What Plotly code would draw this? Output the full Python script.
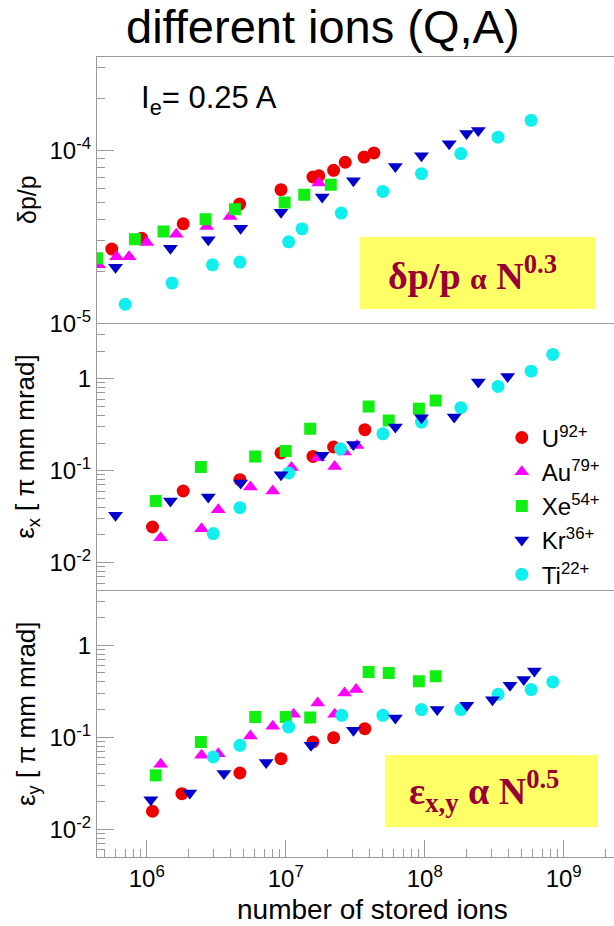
import plotly.graph_objects as go

# ---------------- data ----------------
ions = ["U<sup>92+</sup>", "Au<sup>79+</sup>", "Xe<sup>54+</sup>", "Kr<sup>36+</sup>", "Ti<sup>22+</sup>"]

# panel 1: momentum spread dp/p
U_N_dp = [5.6e5, 9.2e5, 1.83e6, 4.66e6, 9.25e6, 1.57e7, 1.73e7, 2.21e7, 2.68e7, 3.66e7, 4.31e7]
U_dp = [2.69e-5, 3.10e-5, 3.76e-5, 4.89e-5, 5.92e-5, 7.01e-5, 7.13e-5, 7.66e-5, 8.53e-5, 9.14e-5, 9.66e-5]
Au_N_dp = [4.51e5, 6.07e5, 7.46e5, 1.0e6, 1.63e6, 2.70e6, 3.98e6, 1.73e7]
Au_dp = [2.18e-5, 2.43e-5, 2.43e-5, 2.93e-5, 3.27e-5, 3.63e-5, 4.15e-5, 6.47e-5]
Xe_N_dp = [4.39e5, 8.22e5, 1.32e6, 2.65e6, 4.31e6, 9.82e6, 1.36e7, 2.11e7]
Xe_dp = [2.38e-5, 3.06e-5, 3.40e-5, 4.00e-5, 4.57e-5, 5.00e-5, 5.53e-5, 6.32e-5]
Kr_N_dp = [5.96e5, 1.48e6, 2.77e6, 4.74e6, 9.25e6, 1.83e7, 3.07e7, 6.15e7, 9.48e7, 1.50e8, 2.00e8, 2.43e8]
Kr_dp = [2.11e-5, 2.72e-5, 3.04e-5, 3.55e-5, 4.38e-5, 5.37e-5, 6.67e-5, 8.07e-5, 9.31e-5, 1.09e-4, 1.25e-4, 1.30e-4]
Ti_N_dp = [7.0e5, 1.52e6, 2.97e6, 4.68e6, 1.05e7, 1.31e7, 2.51e7, 5.0e7, 9.48e7, 1.82e8, 3.37e8, 5.83e8]
Ti_dp = [1.29e-5, 1.71e-5, 2.18e-5, 2.26e-5, 2.96e-5, 3.52e-5, 4.34e-5, 5.79e-5, 7.33e-5, 9.57e-5, 1.19e-4, 1.49e-4]

# panel 2: horizontal emittance
U_N_ex = [1.10e6, 1.83e6, 4.68e6, 9.25e6, 1.57e7, 2.21e7, 3.71e7]
U_ex = [0.0244, 0.0601, 0.0798, 0.156, 0.143, 0.181, 0.279]
Au_N_ex = [1.26e6, 2.48e6, 3.27e6, 5.57e6, 8.07e6, 1.10e7, 1.70e7, 2.25e7, 2.65e7, 3.26e7]
Au_ex = [0.0187, 0.0234, 0.0377, 0.0664, 0.0601, 0.108, 0.138, 0.111, 0.160, 0.188]
Xe_N_ex = [1.16e6, 2.45e6, 6.03e6, 1.0e7, 1.50e7, 3.95e7, 5.51e7, 9.08e7, 1.20e8]
Xe_ex = [0.0468, 0.110, 0.143, 0.164, 0.286, 0.500, 0.352, 0.472, 0.581]
Kr_N_ex = [5.96e5, 1.48e6, 2.77e6, 4.74e6, 9.25e6, 1.83e7, 3.07e7, 6.15e7, 9.48e7, 1.63e8, 2.43e8, 3.95e8]
Kr_ex = [0.0327, 0.0468, 0.0518, 0.0735, 0.0906, 0.147, 0.193, 0.299, 0.377, 0.383, 0.920, 1.06]
Ti_N_ex = [3.01e6, 4.68e6, 1.05e7, 2.48e7, 5.0e7, 9.48e7, 1.82e8, 3.37e8, 5.83e8, 8.34e8]
Ti_ex = [0.0207, 0.0396, 0.0944, 0.173, 0.252, 0.338, 0.484, 0.826, 1.21, 1.84]

# panel 3: vertical emittance
U_N_ey = [1.10e6, 1.79e6, 4.68e6, 9.25e6, 1.57e7, 2.21e7, 3.71e7]
U_ey = [0.0157, 0.0244, 0.0409, 0.0586, 0.0889, 0.0991, 0.124]
Au_N_ey = [1.26e6, 2.48e6, 3.27e6, 5.57e6, 8.07e6, 1.14e7, 1.70e7, 2.25e7, 2.65e7, 3.21e7]
Au_ey = [0.0509, 0.0637, 0.0664, 0.103, 0.132, 0.178, 0.236, 0.178, 0.303, 0.330]
Xe_N_ey = [1.16e6, 2.45e6, 6.03e6, 1.0e7, 1.50e7, 3.95e7, 5.51e7, 9.08e7, 1.20e8]
Xe_ey = [0.0386, 0.0889, 0.166, 0.166, 0.164, 0.513, 0.500, 0.406, 0.460]
Kr_N_ey = [1.07e6, 2.04e6, 3.59e6, 7.23e6, 1.52e7, 3.07e7, 6.15e7, 1.23e8, 2.01e8, 3.07e8, 4.11e8, 5.16e8, 6.15e8]
Kr_ey = [0.0210, 0.0248, 0.0403, 0.0531, 0.0818, 0.119, 0.162, 0.200, 0.223, 0.256, 0.367, 0.424, 0.526]
Ti_N_ey = [3.01e6, 4.68e6, 1.05e7, 2.53e7, 5.0e7, 9.48e7, 1.82e8, 3.37e8, 5.83e8, 8.34e8]
Ti_ey = [0.0611, 0.0818, 0.129, 0.173, 0.173, 0.200, 0.200, 0.293, 0.330, 0.399]

x_tickvals = [1e6, 1e7, 1e8, 1e9]
x_ticktext = ["10<sup>6</sup>", "10<sup>7</sup>", "10<sup>8</sup>", "10<sup>9</sup>"]
dp_tickvals = [1e-5, 1e-4]
dp_ticktext = ["10<sup>-5</sup>", "10<sup>-4</sup>"]
em_tickvals = [1e-2, 1e-1, 1]
em_ticktext = ["10<sup>-2</sup>", "10<sup>-1</sup>", "1"]

# ---------------- style ----------------
FONT = "Liberation Sans, Arial, sans-serif"
SERIF = "Liberation Serif, Times New Roman, serif"
AX = "#9a9a9a"
styles = {
    "U": dict(color="#ee0000", symbol="circle", size=13),
    "Au": dict(color="#ff00ff", symbol="triangle-up", size=13),
    "Xe": dict(color="#11ee11", symbol="square", size=12),
    "Kr": dict(color="#0000cc", symbol="triangle-down", size=13),
    "Ti": dict(color="#11eeee", symbol="circle", size=13),
}
rank = {"U": 1, "Au": 2, "Xe": 3, "Kr": 4, "Ti": 5}
names = dict(zip(["U", "Au", "Xe", "Kr", "Ti"], ions))

panels = [
    ("x", "y", {"U": (U_N_dp, U_dp), "Au": (Au_N_dp, Au_dp), "Xe": (Xe_N_dp, Xe_dp),
                "Ti": (Ti_N_dp, Ti_dp), "Kr": (Kr_N_dp, Kr_dp)}, False),
    ("x2", "y2", {"U": (U_N_ex, U_ex), "Au": (Au_N_ex, Au_ex), "Xe": (Xe_N_ex, Xe_ex),
                  "Ti": (Ti_N_ex, Ti_ex), "Kr": (Kr_N_ex, Kr_ex)}, True),
    ("x3", "y3", {"U": (U_N_ey, U_ey), "Au": (Au_N_ey, Au_ey), "Xe": (Xe_N_ey, Xe_ey),
                  "Ti": (Ti_N_ey, Ti_ey), "Kr": (Kr_N_ey, Kr_ey)}, False),
]

fig = go.Figure()
for xa, ya, d, show in panels:
    for key in ["U", "Au", "Xe", "Ti", "Kr"]:
        xs, ys = d[key]
        st = styles[key]
        fig.add_trace(go.Scatter(
            x=xs, y=ys, xaxis=xa, yaxis=ya, mode="markers",
            name=names[key], legendgroup=key, showlegend=show, legendrank=rank[key],
            marker=dict(color=st["color"], symbol=st["symbol"], size=st["size"],
                        line=dict(width=0)),
        ))

def minor_vals(lo, hi):
    out = []
    for e in range(lo, hi):
        for m in range(2, 10):
            out.append(m * 10.0 ** e)
    return out

xrange_log = [5.642, 9.362]
d3 = [0.0, 0.3343]
d2 = [0.3343, 0.667]
d1 = [0.667, 1.0]

TICKFONT = dict(family=FONT, size=24, color="black")

common_x = dict(type="log", range=xrange_log, showgrid=False, zeroline=False,
                showline=True, linecolor=AX, linewidth=1.2, domain=[0, 1])
fig.update_layout(
    xaxis=dict(**common_x, anchor="y", matches="x3", showticklabels=False, ticks="", mirror=True),
    xaxis2=dict(**common_x, anchor="y2", matches="x3", showticklabels=False, ticks=""),
    xaxis3=dict(**common_x, anchor="y3", ticks="inside", ticklen=17, tickcolor=AX, tickwidth=1.2,
                tickmode="array", tickvals=x_tickvals, ticktext=x_ticktext,
                tickfont=TICKFONT,
                minor=dict(ticks="inside", ticklen=8, tickcolor=AX, tickwidth=1.2,
                           tickmode="array", tickvals=minor_vals(5, 10))),
)

def yax(dom, rng, tv, tt, lo, hi, anchor):
    return dict(type="log", domain=dom, range=rng, anchor=anchor, showgrid=False, zeroline=False,
                showline=True, linecolor=AX, linewidth=1.2,
                ticks="inside", ticklen=17, tickcolor=AX, tickwidth=1.2,
                tickmode="array", tickvals=tv, ticktext=tt,
                tickfont=TICKFONT,
                minor=dict(ticks="inside", ticklen=8, tickcolor=AX, tickwidth=1.2,
                           tickmode="array", tickvals=minor_vals(lo, hi)))

fig.update_layout(
    yaxis=yax(d1, [-5.0, -3.461], dp_tickvals, dp_ticktext, -5, -3, "x"),
    yaxis2=yax(d2, [-2.293, 0.602], em_tickvals, em_ticktext, -3, 1, "x2"),
    yaxis3=yax(d3, [-2.301, 0.605], em_tickvals, em_ticktext, -3, 1, "x3"),
)

# yellow boxes
fig.add_shape(type="rect", xref="paper", yref="paper", x0=0.5087, x1=0.9652, y0=0.685, y1=0.775,
              fillcolor="#ffff66", line=dict(width=0), layer="above")
fig.add_shape(type="rect", xref="paper", yref="paper", x0=0.557, x1=0.969, y0=0.0375, y1=0.1275,
              fillcolor="#ffff66", line=dict(width=0), layer="above")

ann = []
ann.append(dict(text="different ions (Q,A)", x=0.437, y=1.0375, xref="paper", yref="paper",
                xanchor="center", yanchor="middle", showarrow=False,
                font=dict(family=FONT, size=47, color="black")))
ann.append(dict(text="I<sub>e</sub>= 0.25 A", x=0.082, y=0.946, xref="paper", yref="paper",
                xanchor="left", yanchor="middle", showarrow=False,
                font=dict(family=FONT, size=31, color="black")))
ann.append(dict(text="<b>δp/p <span style='font-size:30px'>α</span> N<sup>0.3</sup></b>",
                x=0.7263, y=0.73, xref="paper", yref="paper", xanchor="center", yanchor="middle",
                showarrow=False, font=dict(family=SERIF, size=38, color="#990033")))
ann.append(dict(text="<b>ε<sub>x,y</sub> α N<sup>0.5</sup></b>",
                x=0.7485, y=0.082, xref="paper", yref="paper", xanchor="center", yanchor="middle",
                showarrow=False, font=dict(family=SERIF, size=38, color="#990033")))
ann.append(dict(text="δp/p", x=-0.1354, y=0.8225, xref="paper", yref="paper", textangle=-90,
                xanchor="center", yanchor="middle", showarrow=False,
                font=dict(family=FONT, size=25, color="black")))
ann.append(dict(text="ε<sub>x</sub> [ π mm mrad]", x=-0.1354, y=0.514, xref="paper", yref="paper",
                textangle=-90, xanchor="center", yanchor="middle", showarrow=False,
                font=dict(family=FONT, size=26, color="black")))
ann.append(dict(text="ε<sub>y</sub> [ π mm mrad]", x=-0.1354, y=0.18, xref="paper", yref="paper",
                textangle=-90, xanchor="center", yanchor="middle", showarrow=False,
                font=dict(family=FONT, size=26, color="black")))
ann.append(dict(text="number of stored ions", x=0.532, y=-0.066, xref="paper", yref="paper",
                xanchor="center", yanchor="middle", showarrow=False,
                font=dict(family=FONT, size=28, color="black")))

fig.update_layout(
    width=614, height=926,
    margin=dict(l=97, r=0, t=57, b=69),
    paper_bgcolor="white", plot_bgcolor="white",
    annotations=ann,
    showlegend=True,
    legend=dict(x=0.783, y=0.552, xanchor="left", yanchor="top",
                bgcolor="rgba(0,0,0,0)", borderwidth=0, tracegroupgap=0,
                font=dict(family=FONT, size=24, color="black"), itemsizing="trace"),
    font=dict(family=FONT),
)

fig.write_html("out.html")
